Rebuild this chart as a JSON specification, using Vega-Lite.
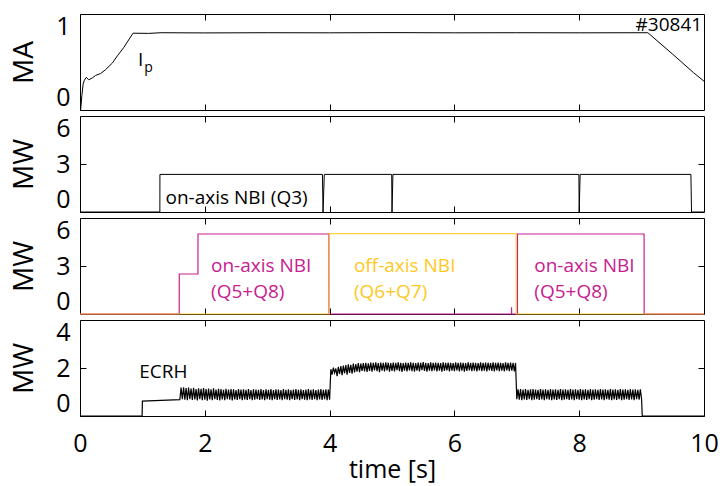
{
  "$schema": "https://vega.github.io/schema/vega-lite/v6.json",
  "background": "white",
  "padding": {"left": 10, "top": 13, "right": 0, "bottom": 0},
  "spacing": 2,
  "config": {
    "view": {"stroke": "black", "strokeWidth": 1},
    "font": "Open Sans",
    "axis": {"domain": false, "grid": false, "tickColor": "black", "tickSize": -6, "tickWidth": 1, "labelFont": "Open Sans", "labelFontSize": 25, "labelColor": "black", "titleFont": "Open Sans", "titleFontSize": 28, "titleFontWeight": "normal", "titleColor": "black"},
    "axisY": {"labelFlush": true, "labelPadding": 16, "titlePadding": 17, "format": "d"},
    "axisX": {"labelPadding": 21, "titlePadding": 1, "labelFlush": false, "titleFontSize": 25}
  },
  "datasets": {
    "ip": [
      {"t":0,"v":0},{"t":0.01,"v":0.0},{"t":0.03,"v":0.15},{"t":0.05,"v":0.27},{"t":0.07,"v":0.31},{"t":0.1,"v":0.34},{"t":0.14,"v":0.315},{"t":0.2,"v":0.335},{"t":0.25,"v":0.36},{"t":0.33,"v":0.38},{"t":0.41,"v":0.42},{"t":0.52,"v":0.49},{"t":0.6,"v":0.565},{"t":0.7,"v":0.65},{"t":0.85,"v":0.8},{"t":1.1,"v":0.798},{"t":1.3,"v":0.805},{"t":2,"v":0.803},{"t":3,"v":0.805},{"t":4,"v":0.804},{"t":5,"v":0.806},{"t":6,"v":0.804},{"t":7,"v":0.805},{"t":8,"v":0.804},{"t":9.1,"v":0.805},{"t":9.5,"v":0.58},{"t":9.83,"v":0.39},{"t":10,"v":0.3}
    ],
    "q3": [
      {"t":0,"v":0},{"t":1.28,"v":0},{"t":1.281,"v":2.35},{"t":3.885,"v":2.35},{"t":3.895,"v":0},{"t":3.915,"v":2.35},{"t":4.995,"v":2.35},{"t":5.0,"v":0},{"t":5.015,"v":2.35},{"t":7.995,"v":2.35},{"t":8.0,"v":0},{"t":8.015,"v":2.35},{"t":9.79,"v":2.35},{"t":9.8,"v":0},{"t":10,"v":0}
    ],
    "q58": [
      {"t":0,"v":0,"s":"Q5+Q8"},{"t":1.59,"v":0,"s":"Q5+Q8"},{"t":1.591,"v":2.5,"s":"Q5+Q8"},{"t":1.89,"v":2.5,"s":"Q5+Q8"},{"t":1.891,"v":5.0,"s":"Q5+Q8"},{"t":3.99,"v":5.0,"s":"Q5+Q8"},{"t":3.991,"v":0,"s":"Q5+Q8"},{"t":6.915,"v":0,"s":"Q5+Q8"},{"t":6.916,"v":0.42,"s":"Q5+Q8"},{"t":6.917,"v":0,"s":"Q5+Q8"},{"t":7.01,"v":0,"s":"Q5+Q8"},{"t":7.011,"v":5.0,"s":"Q5+Q8"},{"t":9.04,"v":5.0,"s":"Q5+Q8"},{"t":9.041,"v":0,"s":"Q5+Q8"},{"t":10,"v":0,"s":"Q5+Q8"}
    ],
    "q67": [
      {"t":0,"v":0,"s":"Q6+Q7"},{"t":3.995,"v":0,"s":"Q6+Q7"},{"t":3.996,"v":5.02,"s":"Q6+Q7"},{"t":6.99,"v":5.02,"s":"Q6+Q7"},{"t":6.991,"v":0,"s":"Q6+Q7"},{"t":10,"v":0,"s":"Q6+Q7"}
    ],
    "ecrh": [
      {"t":0,"v":0},{"t":0.995,"v":0},{"t":1.0,"v":0.62},{"t":1.3,"v":0.65},{"t":1.6,"v":0.68},
      {"t":1.62,"v":1.18},{"t":1.64,"v":0.70},{"t":1.66,"v":1.20},{"t":1.68,"v":0.68},{"t":1.70,"v":1.16},{"t":1.72,"v":0.66},{"t":1.74,"v":1.19},{"t":1.76,"v":0.70},{"t":1.78,"v":1.14},{"t":1.80,"v":0.67},{"t":1.82,"v":1.17},{"t":1.84,"v":0.69},{"t":1.86,"v":1.12},{"t":1.88,"v":0.65},{"t":1.90,"v":1.15},{"t":1.92,"v":0.70},{"t":1.94,"v":1.13},{"t":1.96,"v":0.66},{"t":1.98,"v":1.16},{"t":2.00,"v":0.68},
      {"t":2.02,"v":1.12},{"t":2.04,"v":0.64},{"t":2.06,"v":1.14},{"t":2.08,"v":0.69},{"t":2.10,"v":1.11},{"t":2.12,"v":0.66},{"t":2.14,"v":1.15},{"t":2.16,"v":0.70},{"t":2.18,"v":1.10},{"t":2.20,"v":0.67},{"t":2.22,"v":1.13},{"t":2.24,"v":0.65},{"t":2.26,"v":1.12},{"t":2.28,"v":0.69},{"t":2.30,"v":1.09},{"t":2.32,"v":0.66},{"t":2.34,"v":1.13},{"t":2.36,"v":0.70},{"t":2.38,"v":1.10},{"t":2.40,"v":0.68},{"t":2.42,"v":1.12},{"t":2.44,"v":0.65},{"t":2.46,"v":1.11},{"t":2.48,"v":0.69},{"t":2.50,"v":1.08},
      {"t":2.52,"v":0.67},{"t":2.54,"v":1.12},{"t":2.56,"v":0.70},{"t":2.58,"v":1.10},{"t":2.60,"v":0.66},{"t":2.62,"v":1.11},{"t":2.64,"v":0.69},{"t":2.66,"v":1.09},{"t":2.68,"v":0.67},{"t":2.70,"v":1.12},{"t":2.72,"v":0.70},{"t":2.74,"v":1.08},{"t":2.76,"v":0.66},{"t":2.78,"v":1.11},{"t":2.80,"v":0.68},{"t":2.82,"v":1.10},{"t":2.84,"v":0.70},{"t":2.86,"v":1.09},{"t":2.88,"v":0.67},{"t":2.90,"v":1.12},{"t":2.92,"v":0.69},{"t":2.94,"v":1.08},{"t":2.96,"v":0.66},{"t":2.98,"v":1.11},{"t":3.00,"v":0.70},
      {"t":3.02,"v":1.09},{"t":3.04,"v":0.68},{"t":3.06,"v":1.12},{"t":3.08,"v":0.66},{"t":3.10,"v":1.08},{"t":3.12,"v":0.70},{"t":3.14,"v":1.11},{"t":3.16,"v":0.67},{"t":3.18,"v":1.10},{"t":3.20,"v":0.69},{"t":3.22,"v":1.08},{"t":3.24,"v":0.66},{"t":3.26,"v":1.12},{"t":3.28,"v":0.70},{"t":3.30,"v":1.09},{"t":3.32,"v":0.68},{"t":3.34,"v":1.11},{"t":3.36,"v":0.66},{"t":3.38,"v":1.08},{"t":3.40,"v":0.70},{"t":3.42,"v":1.10},{"t":3.44,"v":0.67},{"t":3.46,"v":1.12},{"t":3.48,"v":0.69},{"t":3.50,"v":1.09},
      {"t":3.52,"v":0.66},{"t":3.54,"v":1.11},{"t":3.56,"v":0.70},{"t":3.58,"v":1.08},{"t":3.60,"v":0.68},{"t":3.62,"v":1.10},{"t":3.64,"v":0.66},{"t":3.66,"v":1.12},{"t":3.68,"v":0.69},{"t":3.70,"v":1.09},{"t":3.72,"v":0.67},{"t":3.74,"v":1.11},{"t":3.76,"v":0.70},{"t":3.78,"v":1.08},{"t":3.80,"v":0.66},{"t":3.82,"v":1.10},{"t":3.84,"v":0.69},{"t":3.86,"v":1.12},{"t":3.88,"v":0.67},{"t":3.90,"v":1.09},{"t":3.92,"v":0.70},{"t":3.94,"v":1.11},{"t":3.96,"v":0.66},{"t":3.98,"v":1.10},{"t":4.00,"v":0.68},
      {"t":4.02,"v":1.95},{"t":4.04,"v":1.72},{"t":4.06,"v":2.02},{"t":4.08,"v":1.80},{"t":4.10,"v":1.98},{"t":4.12,"v":1.66},{"t":4.14,"v":2.05},{"t":4.16,"v":1.75},{"t":4.18,"v":2.08},{"t":4.20,"v":1.70},{"t":4.22,"v":2.10},{"t":4.24,"v":1.78},{"t":4.26,"v":2.12},{"t":4.28,"v":1.72},{"t":4.30,"v":2.15},{"t":4.32,"v":1.80},{"t":4.34,"v":2.13},{"t":4.36,"v":1.76},{"t":4.38,"v":2.18},{"t":4.40,"v":1.82},{"t":4.42,"v":2.16},{"t":4.44,"v":1.85},{"t":4.46,"v":2.20},{"t":4.48,"v":1.83},{"t":4.50,"v":2.18},{"t":4.52,"v":1.88},
      {"t":4.54,"v":2.20},{"t":4.56,"v":1.86},{"t":4.58,"v":2.22},{"t":4.60,"v":1.84},{"t":4.62,"v":2.19},{"t":4.64,"v":1.88},{"t":4.66,"v":2.23},{"t":4.68,"v":1.85},{"t":4.70,"v":2.21},{"t":4.72,"v":1.90},{"t":4.74,"v":2.24},{"t":4.76,"v":1.87},{"t":4.78,"v":2.20},{"t":4.80,"v":1.83},{"t":4.82,"v":2.23},{"t":4.84,"v":1.89},{"t":4.86,"v":2.21},{"t":4.88,"v":1.86},{"t":4.90,"v":2.24},{"t":4.92,"v":1.90},{"t":4.94,"v":2.22},{"t":4.96,"v":1.85},{"t":4.98,"v":2.20},{"t":5.00,"v":1.88},
      {"t":5.02,"v":2.23},{"t":5.04,"v":1.86},{"t":5.06,"v":2.21},{"t":5.08,"v":1.91},{"t":5.10,"v":2.24},{"t":5.12,"v":1.87},{"t":5.14,"v":2.22},{"t":5.16,"v":1.84},{"t":5.18,"v":2.20},{"t":5.20,"v":1.89},{"t":5.22,"v":2.23},{"t":5.24,"v":1.86},{"t":5.26,"v":2.21},{"t":5.28,"v":1.90},{"t":5.30,"v":2.24},{"t":5.32,"v":1.87},{"t":5.34,"v":2.22},{"t":5.36,"v":1.85},{"t":5.38,"v":2.20},{"t":5.40,"v":1.89},{"t":5.42,"v":2.23},{"t":5.44,"v":1.86},{"t":5.46,"v":2.21},{"t":5.48,"v":1.91},{"t":5.50,"v":2.25},
      {"t":5.52,"v":1.88},{"t":5.54,"v":2.22},{"t":5.56,"v":1.85},{"t":5.58,"v":2.20},{"t":5.60,"v":1.89},{"t":5.62,"v":2.24},{"t":5.64,"v":1.87},{"t":5.66,"v":2.21},{"t":5.68,"v":1.90},{"t":5.70,"v":2.23},{"t":5.72,"v":1.86},{"t":5.74,"v":2.22},{"t":5.76,"v":1.89},{"t":5.78,"v":2.20},{"t":5.80,"v":1.85},{"t":5.82,"v":2.24},{"t":5.84,"v":1.88},{"t":5.86,"v":2.21},{"t":5.88,"v":1.90},{"t":5.90,"v":2.23},{"t":5.92,"v":1.86},{"t":5.94,"v":2.22},{"t":5.96,"v":1.89},{"t":5.98,"v":2.20},{"t":6.00,"v":1.87},
      {"t":6.02,"v":2.24},{"t":6.04,"v":1.90},{"t":6.06,"v":2.21},{"t":6.08,"v":1.86},{"t":6.10,"v":2.23},{"t":6.12,"v":1.89},{"t":6.14,"v":2.22},{"t":6.16,"v":1.85},{"t":6.18,"v":2.20},{"t":6.20,"v":1.88},{"t":6.22,"v":2.24},{"t":6.24,"v":1.90},{"t":6.26,"v":2.21},{"t":6.28,"v":1.87},{"t":6.30,"v":2.23},{"t":6.32,"v":1.89},{"t":6.34,"v":2.22},{"t":6.36,"v":1.86},{"t":6.38,"v":2.20},{"t":6.40,"v":1.90},{"t":6.42,"v":2.24},{"t":6.44,"v":1.87},{"t":6.46,"v":2.21},{"t":6.48,"v":1.89},{"t":6.50,"v":2.23},
      {"t":6.52,"v":1.86},{"t":6.54,"v":2.22},{"t":6.56,"v":1.90},{"t":6.58,"v":2.20},{"t":6.60,"v":1.88},{"t":6.62,"v":2.24},{"t":6.64,"v":1.86},{"t":6.66,"v":2.21},{"t":6.68,"v":1.90},{"t":6.70,"v":2.23},{"t":6.72,"v":1.87},{"t":6.74,"v":2.22},{"t":6.76,"v":1.89},{"t":6.78,"v":2.20},{"t":6.80,"v":1.86},{"t":6.82,"v":2.24},{"t":6.84,"v":1.90},{"t":6.86,"v":2.21},{"t":6.88,"v":1.87},{"t":6.90,"v":2.23},{"t":6.92,"v":1.89},{"t":6.94,"v":2.22},{"t":6.96,"v":1.86},{"t":6.98,"v":2.21},
      {"t":7.00,"v":0.70},{"t":7.02,"v":1.11},{"t":7.04,"v":0.68},{"t":7.06,"v":1.12},{"t":7.08,"v":0.66},{"t":7.10,"v":1.10},{"t":7.12,"v":0.69},{"t":7.14,"v":1.12},{"t":7.16,"v":0.67},{"t":7.18,"v":1.09},{"t":7.20,"v":0.70},{"t":7.22,"v":1.11},{"t":7.24,"v":0.66},{"t":7.26,"v":1.12},{"t":7.28,"v":0.68},{"t":7.30,"v":1.10},{"t":7.32,"v":0.70},{"t":7.34,"v":1.09},{"t":7.36,"v":0.67},{"t":7.38,"v":1.12},{"t":7.40,"v":0.69},{"t":7.42,"v":1.10},{"t":7.44,"v":0.66},{"t":7.46,"v":1.11},{"t":7.48,"v":0.70},{"t":7.50,"v":1.09},
      {"t":7.52,"v":0.68},{"t":7.54,"v":1.12},{"t":7.56,"v":0.66},{"t":7.58,"v":1.10},{"t":7.60,"v":0.69},{"t":7.62,"v":1.11},{"t":7.64,"v":0.67},{"t":7.66,"v":1.09},{"t":7.68,"v":0.70},{"t":7.70,"v":1.12},{"t":7.72,"v":0.66},{"t":7.74,"v":1.10},{"t":7.76,"v":0.68},{"t":7.78,"v":1.11},{"t":7.80,"v":0.70},{"t":7.82,"v":1.09},{"t":7.84,"v":0.67},{"t":7.86,"v":1.12},{"t":7.88,"v":0.69},{"t":7.90,"v":1.10},{"t":7.92,"v":0.66},{"t":7.94,"v":1.11},{"t":7.96,"v":0.70},{"t":7.98,"v":1.09},{"t":8.00,"v":0.68},
      {"t":8.02,"v":1.12},{"t":8.04,"v":0.66},{"t":8.06,"v":1.10},{"t":8.08,"v":0.69},{"t":8.10,"v":1.11},{"t":8.12,"v":0.67},{"t":8.14,"v":1.09},{"t":8.16,"v":0.70},{"t":8.18,"v":1.12},{"t":8.20,"v":0.66},{"t":8.22,"v":1.10},{"t":8.24,"v":0.68},{"t":8.26,"v":1.11},{"t":8.28,"v":0.70},{"t":8.30,"v":1.09},{"t":8.32,"v":0.67},{"t":8.34,"v":1.12},{"t":8.36,"v":0.69},{"t":8.38,"v":1.10},{"t":8.40,"v":0.66},{"t":8.42,"v":1.11},{"t":8.44,"v":0.70},{"t":8.46,"v":1.09},{"t":8.48,"v":0.68},{"t":8.50,"v":1.12},
      {"t":8.52,"v":0.66},{"t":8.54,"v":1.10},{"t":8.56,"v":0.69},{"t":8.58,"v":1.11},{"t":8.60,"v":0.67},{"t":8.62,"v":1.09},{"t":8.64,"v":0.70},{"t":8.66,"v":1.12},{"t":8.68,"v":0.66},{"t":8.70,"v":1.10},{"t":8.72,"v":0.68},{"t":8.74,"v":1.11},{"t":8.76,"v":0.70},{"t":8.78,"v":1.09},{"t":8.80,"v":0.67},{"t":8.82,"v":1.12},{"t":8.84,"v":0.69},{"t":8.86,"v":1.10},{"t":8.88,"v":0.66},{"t":8.90,"v":1.11},{"t":8.92,"v":0.70},{"t":8.94,"v":1.09},{"t":8.96,"v":0.68},{"t":8.98,"v":1.11},{"t":9.00,"v":0.70},{"t":9.01,"v":0},{"t":10,"v":0}
    ]
  },
  "vconcat": [
    {
      "width": 624, "height": 96,
      "layer": [
        {
          "data": {"name": "ip"},
          "mark": {"type": "line", "color": "black", "strokeWidth": 1},
          "encoding": {
            "x": {"field": "t", "type": "quantitative", "scale": {"domain": [0, 10]}, "axis": {"values": [2, 4, 6, 8], "labels": false, "title": null}},
            "y": {"field": "v", "type": "quantitative", "scale": {"domain": [0, 1]}, "axis": {"values": [0, 1], "title": "MA"}}
          }
        },
        {
          "data": {"values": [{"t": 9.97, "v": 0.885, "txt": "#30841"}]},
          "mark": {"type": "text", "align": "right", "baseline": "middle", "fontSize": 19, "font": "Open Sans", "color": "black"},
          "encoding": {
            "x": {"field": "t", "type": "quantitative", "axis": {"orient": "top", "values": [2, 4, 6, 8], "labels": false, "title": null}},
            "y": {"field": "v", "type": "quantitative", "axis": {"orient": "right", "labels": false, "ticks": false, "title": null}},
            "text": {"field": "txt"}
          }
        },
        {
          "data": {"values": [{"t": 0.93, "v": 0.52, "txt": "I"}]},
          "mark": {"type": "text", "align": "left", "baseline": "middle", "fontSize": 19, "font": "Open Sans", "color": "black"},
          "encoding": {
            "x": {"field": "t", "type": "quantitative", "axis": null},
            "y": {"field": "v", "type": "quantitative", "axis": null},
            "text": {"field": "txt"}
          }
        },
        {
          "data": {"values": [{"t": 1.03, "v": 0.44, "txt": "p"}]},
          "mark": {"type": "text", "align": "left", "baseline": "middle", "fontSize": 14, "font": "Open Sans", "color": "black"},
          "encoding": {
            "x": {"field": "t", "type": "quantitative", "axis": null},
            "y": {"field": "v", "type": "quantitative", "axis": null},
            "text": {"field": "txt"}
          }
        }
      ],
      "resolve": {"axis": {"x": "independent", "y": "independent"}}
    },
    {
      "width": 624, "height": 96,
      "layer": [
        {
          "data": {"name": "q3"},
          "mark": {"type": "line", "color": "black", "strokeWidth": 1},
          "encoding": {
            "x": {"field": "t", "type": "quantitative", "scale": {"domain": [0, 10]}, "axis": {"values": [2, 4, 6, 8], "labels": false, "title": null}},
            "y": {"field": "v", "type": "quantitative", "scale": {"domain": [0, 6]}, "axis": {"values": [0, 3, 6], "title": "MW"}}
          }
        },
        {
          "data": {"values": [{"t": 1.37, "v": 0.9, "txt": "on-axis NBI (Q3)"}]},
          "mark": {"type": "text", "align": "left", "baseline": "middle", "fontSize": 19, "font": "Open Sans", "color": "black"},
          "encoding": {
            "x": {"field": "t", "type": "quantitative", "axis": {"orient": "top", "values": [2, 4, 6, 8], "labels": false, "title": null}},
            "y": {"field": "v", "type": "quantitative", "axis": {"orient": "right", "values": [3], "labels": false, "title": null}},
            "text": {"field": "txt"}
          }
        }
      ],
      "resolve": {"axis": {"x": "independent", "y": "independent"}}
    },
    {
      "width": 624, "height": 96,
      "layer": [
        {
          "data": {"name": "q58"},
          "mark": {"type": "line", "strokeWidth": 1.2},
          "encoding": {
            "x": {"field": "t", "type": "quantitative", "scale": {"domain": [0, 10]}, "axis": {"values": [2, 4, 6, 8], "labels": false, "title": null}},
            "y": {"field": "v", "type": "quantitative", "scale": {"domain": [0, 6]}, "axis": {"values": [0, 3, 6], "title": "MW"}},
            "color": {"field": "s", "type": "nominal", "scale": {"domain": ["Q5+Q8", "Q6+Q7"], "range": ["#C8208F", "#FFC81E"]}, "legend": null}
          }
        },
        {
          "data": {"name": "q67"},
          "mark": {"type": "line", "strokeWidth": 1.2, "opacity": 0.85},
          "encoding": {
            "x": {"field": "t", "type": "quantitative", "axis": null},
            "y": {"field": "v", "type": "quantitative", "axis": null},
            "color": {"field": "s", "type": "nominal", "legend": null}
          }
        },
        {
          "data": {"values": [
            {"t": 2.1, "v": 3.0, "txt": "on-axis NBI", "s": "Q5+Q8"},
            {"t": 2.1, "v": 1.4, "txt": "(Q5+Q8)", "s": "Q5+Q8"},
            {"t": 4.39, "v": 3.0, "txt": "off-axis NBI", "s": "Q6+Q7"},
            {"t": 4.39, "v": 1.4, "txt": "(Q6+Q7)", "s": "Q6+Q7"},
            {"t": 7.28, "v": 3.0, "txt": "on-axis NBI", "s": "Q5+Q8"},
            {"t": 7.28, "v": 1.4, "txt": "(Q5+Q8)", "s": "Q5+Q8"}
          ]},
          "mark": {"type": "text", "align": "left", "baseline": "middle", "fontSize": 19, "font": "Open Sans"},
          "encoding": {
            "x": {"field": "t", "type": "quantitative", "axis": {"orient": "top", "values": [2, 4, 6, 8], "labels": false, "title": null}},
            "y": {"field": "v", "type": "quantitative", "axis": {"orient": "right", "values": [3], "labels": false, "title": null}},
            "color": {"field": "s", "type": "nominal", "legend": null},
            "text": {"field": "txt"}
          }
        }
      ],
      "resolve": {"axis": {"x": "independent", "y": "independent"}}
    },
    {
      "width": 624, "height": 96,
      "layer": [
        {
          "data": {"name": "ecrh"},
          "mark": {"type": "line", "color": "black", "strokeWidth": 1.2},
          "encoding": {
            "x": {"field": "t", "type": "quantitative", "scale": {"domain": [0, 10]}, "axis": {"values": [0, 2, 4, 6, 8, 10], "title": "time [s]"}},
            "y": {"field": "v", "type": "quantitative", "scale": {"domain": [0, 4]}, "axis": {"values": [0, 2, 4], "title": "MW"}}
          }
        },
        {
          "data": {"values": [{"t": 0.95, "v": 1.82, "txt": "ECRH"}]},
          "mark": {"type": "text", "align": "left", "baseline": "middle", "fontSize": 19, "font": "Open Sans", "color": "black"},
          "encoding": {
            "x": {"field": "t", "type": "quantitative", "axis": {"orient": "top", "values": [2, 4, 6, 8], "labels": false, "title": null}},
            "y": {"field": "v", "type": "quantitative", "axis": {"orient": "right", "values": [2], "labels": false, "title": null}},
            "text": {"field": "txt"}
          }
        }
      ],
      "resolve": {"axis": {"x": "independent", "y": "independent"}}
    }
  ]
}
